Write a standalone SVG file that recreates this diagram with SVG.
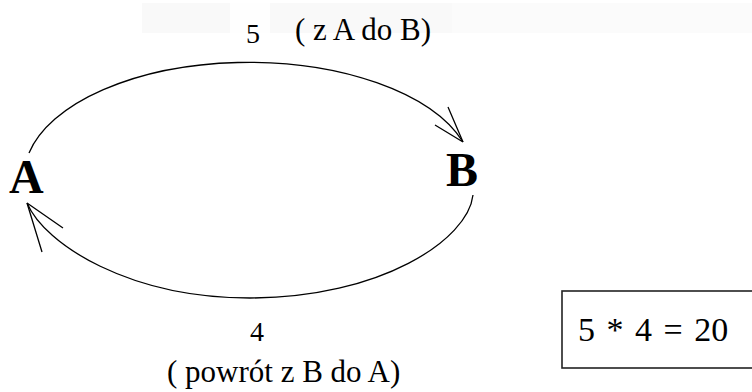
<svg xmlns="http://www.w3.org/2000/svg" width="752" height="392" viewBox="0 0 752 392">
<style>
text{font-family:"Liberation Serif","Times New Roman",serif;fill:#000}
.n{font-weight:bold;font-size:48px}
.c{fill:none;stroke:#000;stroke-width:1.3}
</style>
<rect width="752" height="392" fill="#fff"/>
<g id="band">
<rect x="142" y="3" width="610" height="30" fill="#f9f9f9"/>
<rect x="452" y="3" width="300" height="30" fill="#fbfbfb"/>
<rect x="230" y="3" width="40" height="30" fill="#fefefe"/>
</g>
<g id="connectors">
<path class="c" d="M29,153 A225,115 0 0 1 463,142"/>
<path class="c" d="M463,142 L448,107 M463,142 L435,125"/>
<path class="c" d="M473,195 C468,240 380,298 250,298 C130,298 45,245 27,203"/>
<path class="c" d="M27,203 L63,228 M27,203 L42,252"/>
</g>
<g id="node-A"><text class="n" x="9" y="193" font-family="Liberation Serif, serif">A</text></g>
<g id="node-B"><text class="n" x="446" y="186" font-family="Liberation Serif, serif">B</text></g>
<g id="label-top">
<text x="246" y="43" font-size="28" font-family="Liberation Serif, serif">5</text>
<text x="295" y="40" font-size="31" font-family="Liberation Serif, serif">( z A do B)</text>
</g>
<g id="label-bottom">
<text x="250" y="341" font-size="28" font-family="Liberation Serif, serif">4</text>
<text x="167" y="382" font-size="31" font-family="Liberation Serif, serif">( powrót z B do A)</text>
</g>
<g id="result">
<rect x="562" y="291" width="200" height="77" fill="none" stroke="#222" stroke-width="1.6"/>
<text x="578" y="341" font-size="34" word-spacing="3" font-family="Liberation Serif, serif">5 * 4 = 20</text>
</g>
</svg>
